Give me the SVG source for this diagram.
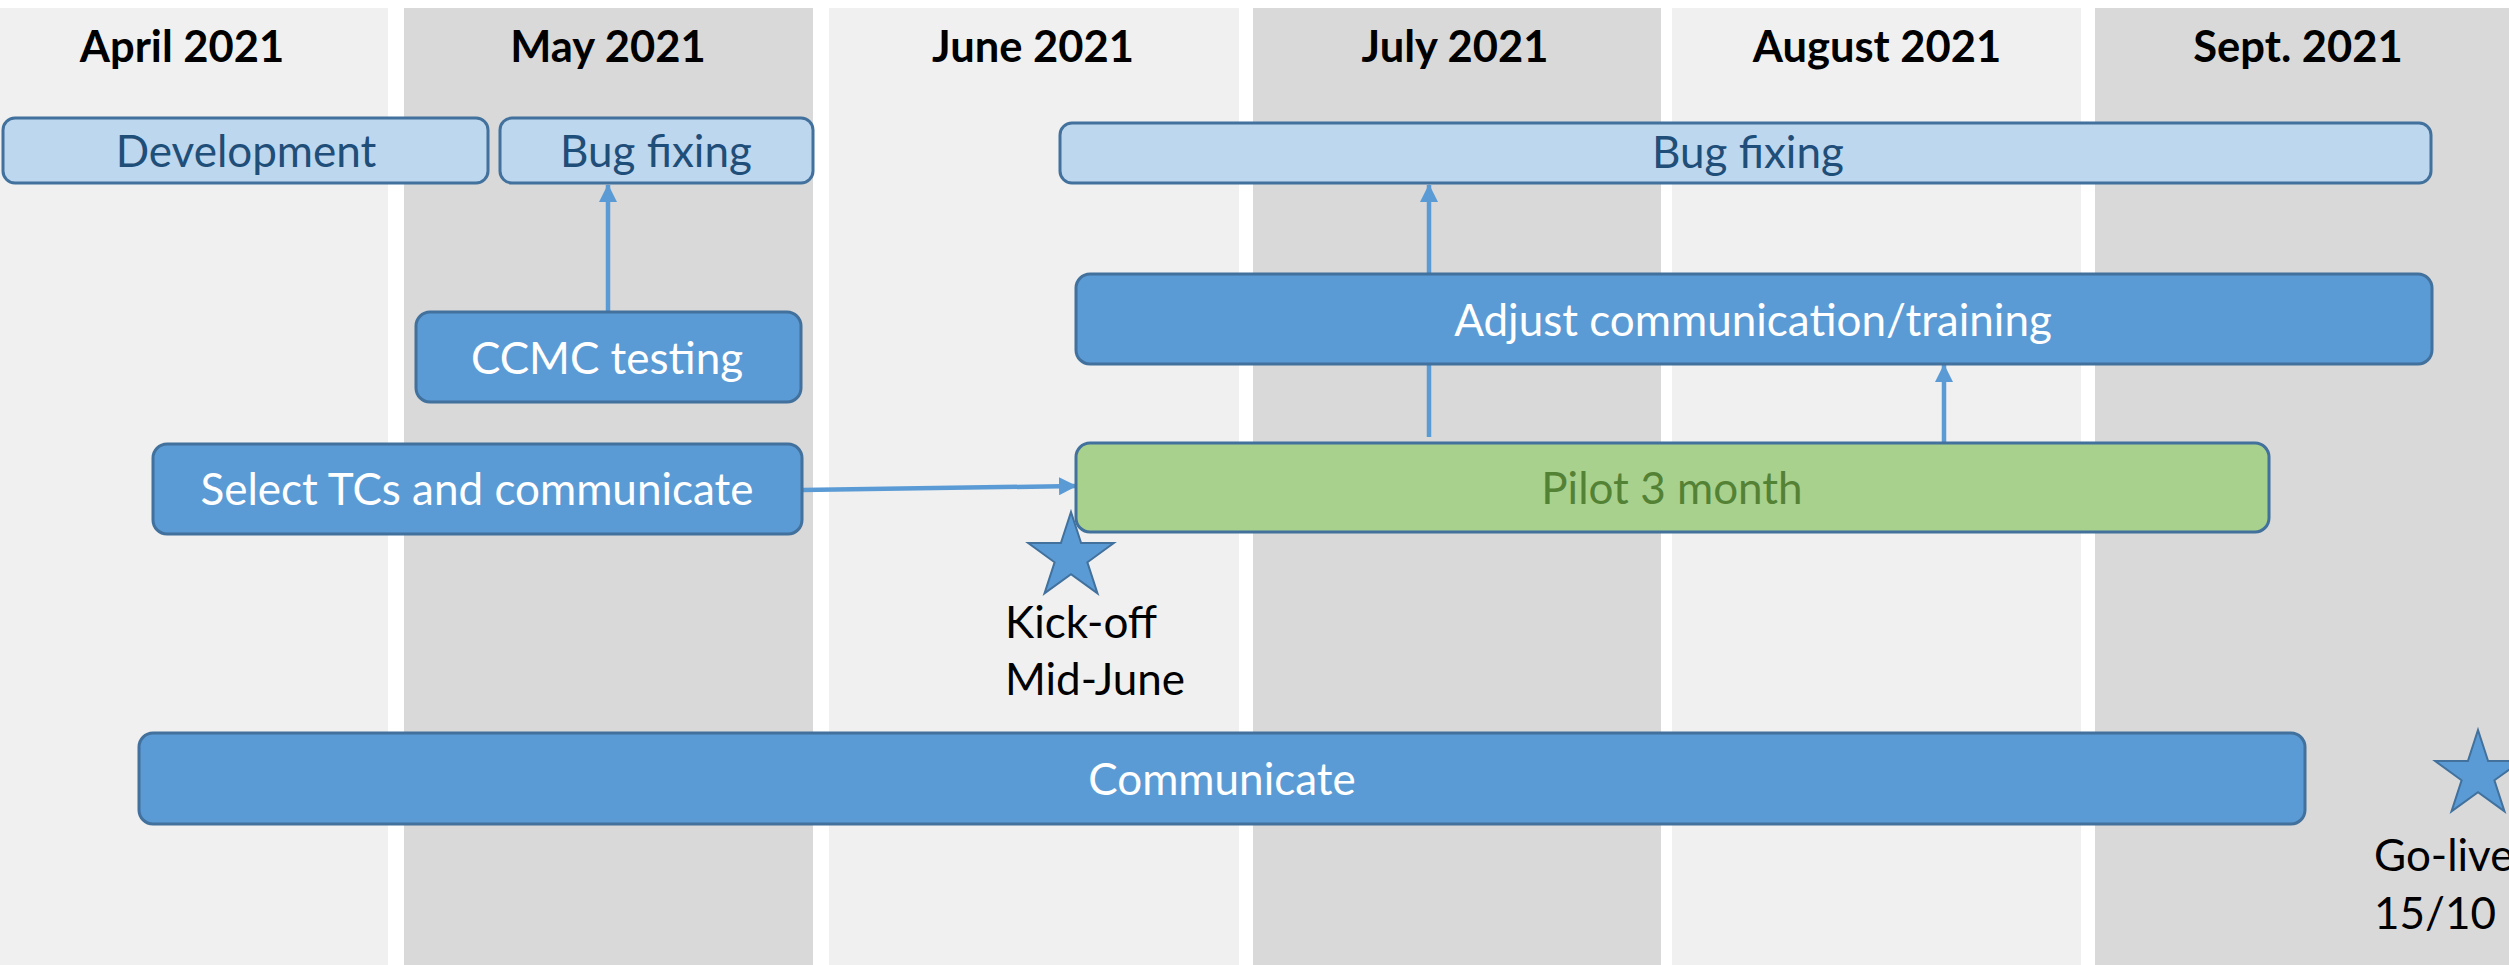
<svg xmlns="http://www.w3.org/2000/svg" width="2509" height="965" viewBox="0 0 2509 965">
<style>
  .bgL { fill: #F0F0F0; }
  .bgD { fill: #D9D9D9; }
  .month { font-family: Lato, "Liberation Sans", sans-serif; font-weight: bold; font-size: 43.5px; fill: #000; text-anchor: middle; }
  .lbox { fill: #BDD7EE; stroke: #41719C; stroke-width: 3; }
  .mbox { fill: #5B9BD5; stroke: #41719C; stroke-width: 3; }
  .gbox { fill: #A9D18E; stroke: #41719C; stroke-width: 3; }
  .t { font-family: Lato, "Liberation Sans", sans-serif; font-size: 44px; text-anchor: middle; }
  .tl { fill: #1F4E79; }
  .tw { fill: #FFFFFF; }
  .tg { fill: #548235; }
  .ms { font-family: Lato, "Liberation Sans", sans-serif; font-size: 44px; fill: #000; }
  .conn { stroke: #5B9BD5; stroke-width: 4.5; fill: none; }
  .star { fill: #5B9BD5; stroke: #41719C; stroke-width: 2; }
</style>
<defs>
  <marker id="arr" markerUnits="userSpaceOnUse" markerWidth="18" markerHeight="18" viewBox="0 0 18 18" refX="17" refY="9" orient="auto">
    <path d="M0,0 L18,9 L0,18 Z" fill="#5B9BD5"/>
  </marker>
</defs>
<rect width="2509" height="965" fill="#FFFFFF"/>
<g id="columns">
  <rect class="bgL" x="0" y="8" width="388" height="957"/>
  <rect class="bgD" x="404" y="8" width="409" height="957"/>
  <rect class="bgL" x="829" y="8" width="410" height="957"/>
  <rect class="bgD" x="1253" y="8" width="408" height="957"/>
  <rect class="bgL" x="1672" y="8" width="409" height="957"/>
  <rect class="bgD" x="2095" y="8" width="414" height="957"/>
</g>
<g id="months">
  <text class="month" x="182" y="62">April 2021</text>
  <text class="month" x="608" y="62">May 2021</text>
  <text class="month" x="1033" y="62">June 2021</text>
  <text class="month" x="1455" y="62">July 2021</text>
  <text class="month" x="1877" y="62">August 2021</text>
  <text class="month" x="2298" y="62">Sept. 2021</text>
</g>
<g id="connectors">
  <line class="conn" x1="608" y1="312" x2="608" y2="185" marker-end="url(#arr)"/>
  <line class="conn" x1="802" y1="490" x2="1076" y2="486" marker-end="url(#arr)"/>
  <line class="conn" x1="1429" y1="437" x2="1429" y2="185" marker-end="url(#arr)"/>
  <line class="conn" x1="1944" y1="443" x2="1944" y2="365" marker-end="url(#arr)"/>
</g>
<g id="development">
  <rect class="lbox" x="3" y="118" width="485" height="65" rx="12"/>
  <text class="t tl" x="246" y="167">Development</text>
</g>
<g id="bugfixing-may">
  <rect class="lbox" x="500" y="118" width="313" height="65" rx="12"/>
  <text class="t tl" x="656" y="167">Bug fixing</text>
</g>
<g id="bugfixing-long">
  <rect class="lbox" x="1060" y="123" width="1371" height="60" rx="12"/>
  <text class="t tl" x="1748" y="168">Bug fixing</text>
</g>
<g id="ccmc">
  <rect class="mbox" x="416" y="312" width="385" height="90" rx="14"/>
  <text class="t tw" x="607" y="374">CCMC testing</text>
</g>
<g id="select">
  <rect class="mbox" x="153" y="444" width="649" height="90" rx="14"/>
  <text class="t tw" x="477" y="505">Select TCs and communicate</text>
</g>
<g id="adjust">
  <rect class="mbox" x="1076" y="274" width="1356" height="90" rx="14"/>
  <text class="t tw" x="1753" y="336">Adjust communication/training</text>
</g>
<g id="pilot">
  <rect class="gbox" x="1076" y="443" width="1193" height="89" rx="14"/>
  <text class="t tg" x="1672" y="504">Pilot 3 month</text>
</g>
<g id="communicate">
  <rect class="mbox" x="139" y="733" width="2166" height="91" rx="14"/>
  <text class="t tw" x="1222" y="795">Communicate</text>
</g>
<g id="kickoff">
  <polygon class="star" points="1071,512 1081.1,543.1 1113.8,543.1 1087.4,562.3 1097.5,593.4 1071,574.2 1044.5,593.4 1054.6,562.3 1028.2,543.1 1060.9,543.1"/>
  <text class="ms" x="1005" y="638">Kick-off</text>
  <text class="ms" x="1005" y="695">Mid-June</text>
</g>
<g id="golive">
  <polygon class="star" points="2478,730 2488.1,761.1 2520.8,761.1 2494.4,780.3 2504.5,811.4 2478,792.2 2451.5,811.4 2461.6,780.3 2435.2,761.1 2467.9,761.1"/>
  <text class="ms" x="2374" y="871">Go-live</text>
  <text class="ms" x="2374" y="929">15/10</text>
</g>
</svg>
